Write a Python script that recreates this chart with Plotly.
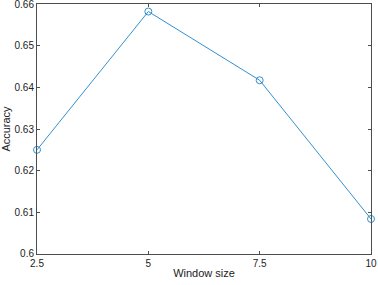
import plotly.graph_objects as go

window_size = [2.5, 5, 7.5, 10]
accuracy = [0.625, 0.6582, 0.6417, 0.6084]
x_ticks = [2.5, 5, 7.5, 10]
x_tick_labels = ["2.5", "5", "7.5", "10"]
y_ticks = [0.6, 0.61, 0.62, 0.63, 0.64, 0.65, 0.66]
y_tick_labels = ["0.6", "0.61", "0.62", "0.63", "0.64", "0.65", "0.66"]

line_color = "#3390cc"
axis_color = "#4d4d4d"
font_family = "Liberation Sans, Arial"

fig = go.Figure()
fig.add_trace(go.Scatter(
    x=window_size, y=accuracy, mode="lines+markers",
    line=dict(color=line_color, width=1),
    marker=dict(symbol="circle-open", size=7, color=line_color, line=dict(width=1)),
    cliponaxis=False,
))

axis_common = dict(
    showgrid=False, zeroline=False, showline=True, mirror="ticks",
    linecolor=axis_color, linewidth=1, ticks="inside", ticklen=3,
    tickcolor=axis_color, automargin=False, ticklabeloverflow="allow",
    tickfont=dict(family=font_family, size=10, color="#222"),
)

fig.update_layout(
    width=378, height=285,
    margin=dict(l=37, r=7, t=4, b=31, autoexpand=False),
    paper_bgcolor="white", plot_bgcolor="white",
    showlegend=False,
    xaxis=dict(range=[2.4999, 10.0001], tickvals=x_ticks, ticktext=x_tick_labels,
               title=dict(text="Window size", standoff=1,
                          font=dict(family=font_family, size=11, color="#222")),
               **axis_common),
    yaxis=dict(range=[0.59999, 0.66001], tickvals=y_ticks, ticktext=y_tick_labels,
               title=dict(text="Accuracy", standoff=1,
                          font=dict(family=font_family, size=11, color="#222")),
               **axis_common),
)

fig.write_html("out.html", config={"displayModeBar": False},
               post_script="document.body.style.margin='0';document.body.style.overflow='hidden';")
